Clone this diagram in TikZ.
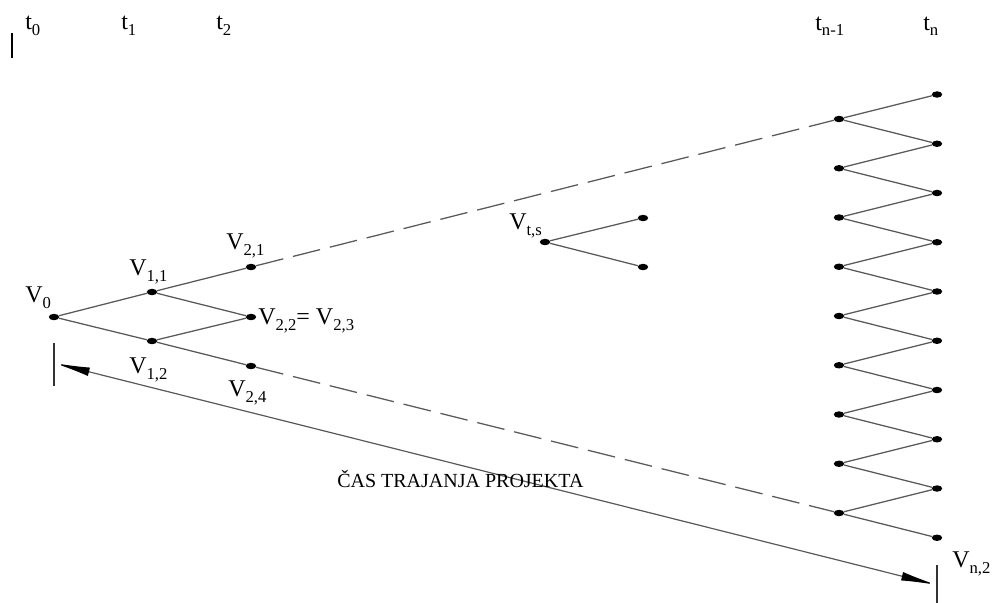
\documentclass[tikz,border=0pt]{standalone}
\usepackage{fontspec}
\setmainfont{Liberation Serif}
\usetikzlibrary{shapes.geometric,arrows.meta}
\newcommand{\lsub}[1]{\raisebox{-0.25em}{\fontsize{12.5}{13}\selectfont #1}}
\tikzset{
  dot/.style={ellipse,fill=black,inner sep=0pt,minimum width=7.8pt,minimum height=4.8pt},
  edge/.style={draw=black!65,line width=0.95pt},
  dashedge/.style={edge,dash pattern=on 21pt off 7.5pt},
  lbl/.style={anchor=base west,inner sep=0pt,font=\fontsize{18}{20}\selectfont},
  tick/.style={draw=black!80,line width=1.2pt}
}
\begin{document}
\begin{tikzpicture}[x=0.75pt,y=-0.75pt]
\useasboundingbox (0,0) rectangle (992,603);
% cursor mark
\draw[line width=1.8pt] (12,33) -- (12,58);
% time labels
\node[lbl] (t0) at (25,29) {t\lsub{0}};
\node[lbl] (t1) at (121,29) {t\lsub{1}};
\node[lbl] (t2) at (216,29) {t\lsub{2}};
\node[lbl] (tn1) at (815,30) {t\lsub{n-1}};
\node[lbl] (tn) at (923,30) {t\lsub{n}};
% tree nodes
\node[dot] (v0) at (54,317) {};
\node[dot] (v11) at (152,292) {};
\node[dot] (v12) at (152,341) {};
\node[dot] (v21) at (251,267) {};
\node[dot] (v22) at (251,317) {};
\node[dot] (v24) at (251,366) {};
\draw[edge] (v0) -- (v11);
\draw[edge] (v0) -- (v12);
\draw[edge] (v11) -- (v21);
\draw[edge] (v11) -- (v22);
\draw[edge] (v12) -- (v22);
\draw[edge] (v12) -- (v24);
% labels
\node[lbl] (lv0) at (25,302) {V\lsub{0}};
\node[lbl] (lv11) at (129,275) {V\lsub{1,1}};
\node[lbl] (lv12) at (129,373) {V\lsub{1,2}};
\node[lbl] (lv21) at (226,249) {V\lsub{2,1}};
\node[lbl] (lv22) at (258,324) {V\lsub{2,2}= V\lsub{2,3}};
\node[lbl] (lv24) at (228,396) {V\lsub{2,4}};
% V t,s
\node[dot] (vts) at (545,242) {};
\node[dot] (vts1) at (643,218) {};
\node[dot] (vts2) at (643,267) {};
\draw[edge] (vts) -- (vts1);
\draw[edge] (vts) -- (vts2);
\node[lbl] (lvts) at (509,229) {V\lsub{t,s}};
% right column
\foreach \i in {0,...,8} {
  \node[dot] (L\i) at (839,{119+49.25*\i}) {};
}
\foreach \j in {0,...,9} {
  \node[dot] (R\j) at (937,{94.5+49.25*\j}) {};
}
\foreach \i [evaluate=\i as \k using int(\i+1)] in {0,...,8} {
  \draw[edge] (L\i) -- (R\i);
  \draw[edge] (L\i) -- (R\k);
}
% dashed connectors
\draw[dashedge] (v21) -- (L0);
\draw[dashedge] (v24) -- (L8);
% duration arrow
\coordinate (aL) at (54,363);
\coordinate (aR) at (937,585);
\draw[tick] (54,343) -- (54,386);
\draw[tick] (937,565) -- (937,603);
\draw[draw=black!65,line width=0.9pt,{Latex[length=27pt,width=6.5pt,color=black]}-{Latex[length=27pt,width=6.5pt,color=black]}] (aL) -- (aR);
\node[lbl,font=\fontsize{15}{17}\selectfont] (cas) at (337,487) {ČAS TRAJANJA PROJEKTA};
\node[lbl] (lvn2) at (952,567) {V\lsub{n,2}};
\end{tikzpicture}
\end{document}
